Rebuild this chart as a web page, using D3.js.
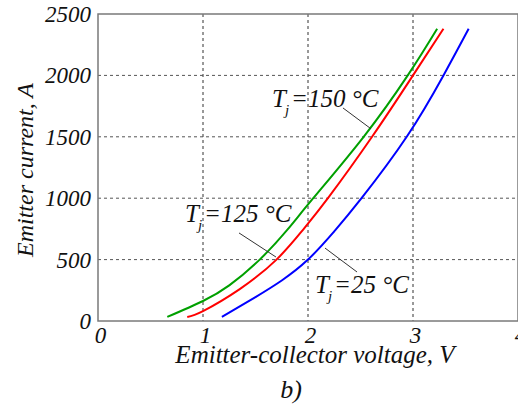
<!DOCTYPE html>
<html>
<head>
<meta charset="utf-8">
<script src="https://cdn.jsdelivr.net/npm/d3@7"></script>
</head>
<body style="margin:0">
<script>
// curve data: [voltage V, current A]
const curve150 = [[0.66, 33], [1.0, 163], [1.25, 290], [1.54, 500], [1.8, 740], [2.05, 1000], [2.53, 1500], [2.95, 2000], [3.23, 2380]];
const curve125 = [[0.85, 33], [1.0, 81], [1.35, 260], [1.7, 500], [1.95, 740], [2.19, 1000], [2.61, 1500], [3.0, 2000], [3.29, 2380]];
const curve25 = [[1.18, 33], [1.5, 195], [1.75, 330], [2.0, 500], [2.25, 730], [2.51, 1000], [2.94, 1500], [3.29, 2000], [3.53, 2380]];
const xTicks = [0, 1, 2, 3, 4];
const yTicks = [0, 500, 1000, 1500, 2000, 2500];
const labels = ['150', '125', '25'];

const width = 518;
const height = 405;
const marginTop = 14;
const marginLeft = 98;
const marginBottom = 84;

const x = d3.scaleLinear()
    .domain([0, 4])
    .range([marginLeft, 518]);

const y = d3.scaleLinear()
    .domain([0, 2500])
    .range([height - marginBottom, marginTop]);

const svg = d3.select('body').append('svg')
    .attr('width', width)
    .attr('height', height)
    .attr('font-family', 'Liberation Serif')
    .attr('font-style', 'italic');

function styleText(sel, size) {
    sel.style('font-family', "'Liberation Serif'")
        .style('font-style', 'italic')
        .style('font-size', size + 'px')
        .attr('fill', '#111');
}

// grid
svg.append('g')
    .selectAll('line')
    .data(xTicks.slice(1, 4))
    .enter()
    .append('line')
    .attr('x1', d => x(d)).attr('x2', d => x(d))
    .attr('y1', y(2500)).attr('y2', y(0))
    .attr('stroke', '#333')
    .attr('stroke-width', 1)
    .attr('stroke-dasharray', '3,3');

svg.append('g')
    .selectAll('line')
    .data(yTicks.slice(1, 5))
    .enter()
    .append('line')
    .attr('x1', x(0)).attr('x2', x(4))
    .attr('y1', d => y(d)).attr('y2', d => y(d))
    .attr('stroke', '#555')
    .attr('stroke-width', 1)
    .attr('stroke-dasharray', '3,3');

// frame
svg.append('rect')
    .attr('x', x(0))
    .attr('y', y(2500))
    .attr('width', x(4) - x(0))
    .attr('height', y(0) - y(2500))
    .attr('fill', 'none')
    .attr('stroke', '#7a7a7a')
    .attr('stroke-width', 1.5);

// axes (labels only)
const xAxis = svg.append('g')
    .attr('transform', `translate(0,${y(0)})`)
    .call(d3.axisBottom(x).tickValues(xTicks).tickFormat(d3.format('d')).tickSize(0).tickPadding(0));
xAxis.attr('font-family', null).attr('font-size', null);
xAxis.select('.domain').remove();
xAxis.selectAll('text')
    .attr('dy', null)
    .attr('y', 22)
    .attr('dx', 2)
    .call(styleText, 23);

const yAxis = svg.append('g')
    .attr('transform', `translate(${x(0)},0)`)
    .call(d3.axisLeft(y).tickValues(yTicks).tickFormat(d3.format('d')).tickSize(0).tickPadding(7));
yAxis.attr('font-family', null).attr('font-size', null);
yAxis.select('.domain').remove();
yAxis.selectAll('text')
    .attr('dy', '0.33em')
    .call(styleText, 23);

// curves
const line = d3.line()
    .x(d => x(d[0]))
    .y(d => y(d[1]))
    .curve(d3.curveNatural);

const series = [
    { data: curve150, color: '#00a000' },
    { data: curve125, color: '#ff0000' },
    { data: curve25, color: '#0000ff' }
];

svg.append('g')
    .selectAll('path')
    .data(series)
    .enter()
    .append('path')
    .attr('d', d => line(d.data))
    .attr('fill', 'none')
    .attr('stroke', d => d.color)
    .attr('stroke-width', 2);

// annotations: text anchor and leader line in data units
const notes = [
    { text: labels[0], at: [1.657, 1743], from: [2.333, 1735], to: [2.6, 1565] },
    { text: labels[1], at: [0.829, 806], from: [1.343, 717], to: [1.695, 521] },
    { text: labels[2], at: [2.067, 228], from: [2.162, 594], to: [2.467, 399] }
];

notes.forEach(n => {
    svg.append('line')
        .attr('x1', x(n.from[0])).attr('y1', y(n.from[1]))
        .attr('x2', x(n.to[0])).attr('y2', y(n.to[1]))
        .attr('stroke', '#333')
        .attr('stroke-width', 1);

    const t = svg.append('text')
        .attr('x', x(n.at[0]))
        .attr('y', y(n.at[1]))
        .call(styleText, 25);
    t.append('tspan').text('T');
    t.append('tspan').attr('dy', 8).attr('dx', -1).style('font-size', '15px').text('j');
    t.append('tspan').attr('dy', -8).attr('dx', 2).text('=' + n.text + ' °C');
});

// axis titles
svg.append('text')
    .attr('x', 315)
    .attr('y', 363)
    .attr('text-anchor', 'middle')
    .call(styleText, 25)
    .text('Emitter-collector voltage, V');

svg.append('text')
    .attr('transform', 'translate(33,170) rotate(-90)')
    .attr('text-anchor', 'middle')
    .call(styleText, 24)
    .text('Emitter current, A');

svg.append('text')
    .attr('x', 291)
    .attr('y', 398)
    .attr('text-anchor', 'middle')
    .call(styleText, 26)
    .text('b)');
</script>
</body>
</html>
